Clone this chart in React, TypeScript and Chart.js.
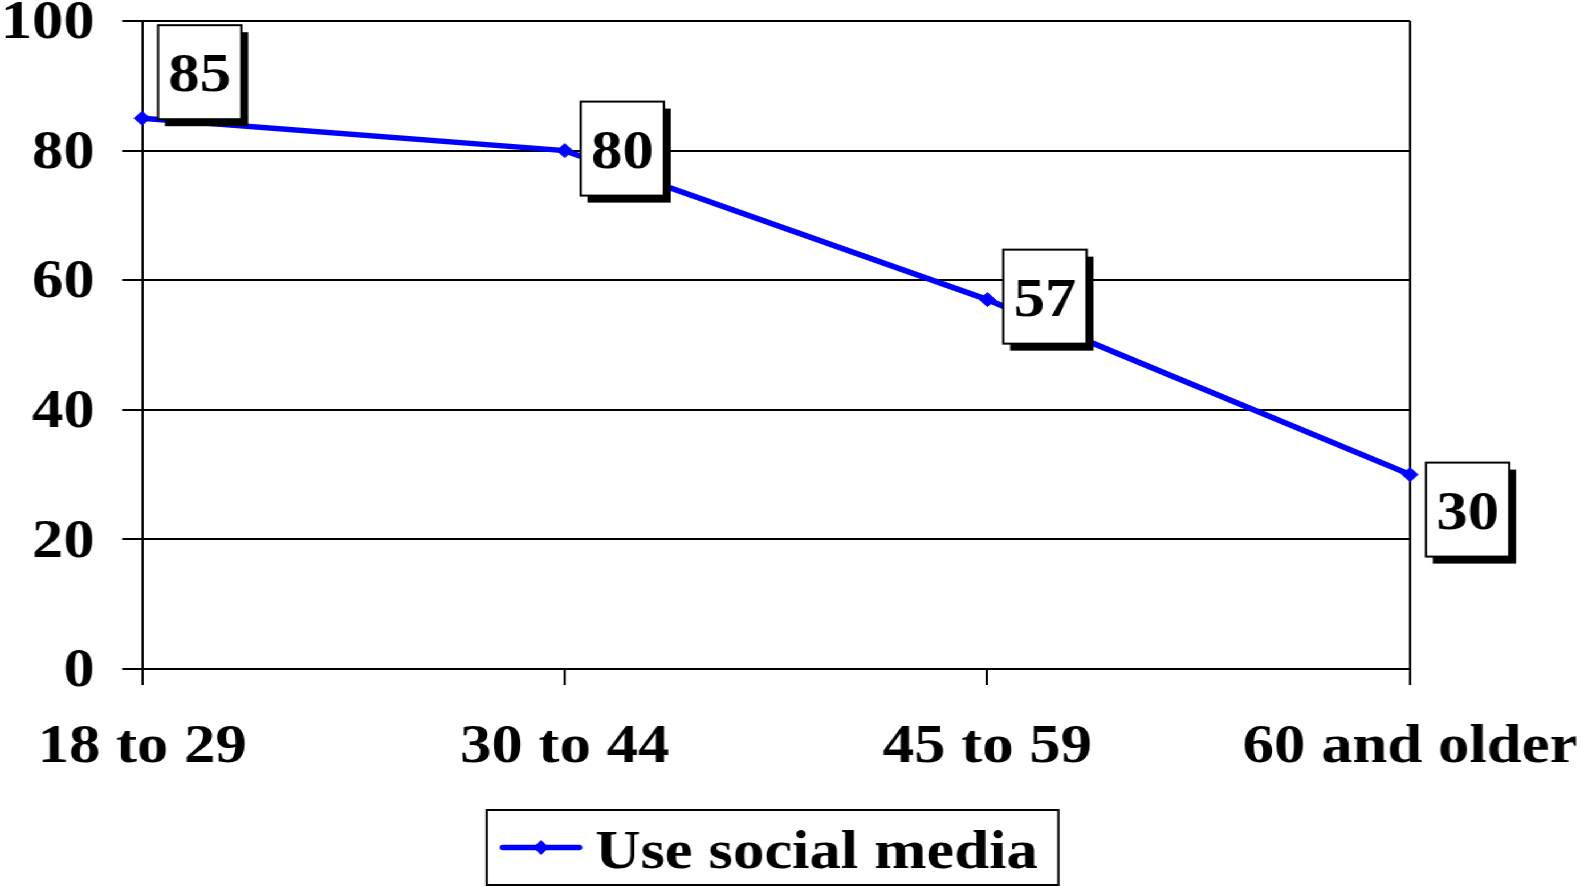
import React, { useEffect, useRef } from 'react';
import { Chart, registerables } from 'chart.js';

Chart.register(...registerables);

// ---- data ----
const categories = ['18 to 29', '30 to 44', '45 to 59', '60 and older'];
const seriesLabel = 'Use social media';
const socialMediaValues = [85, 80, 57, 30];
const yMin = 0;
const yMax = 100;
const yStep = 20;

// ---- styling ----
const STRETCH = 1.14; // reference is horizontally stretched
const FULL_W = 1581;
const FULL_H = 887;
const W = FULL_W / STRETCH;
const FONT = "'Liberation Serif', 'Times New Roman', serif";
const BLUE = '#0000FF';
const PLOT_LEFT = 142 / STRETCH;
const PLOT_RIGHT = 1409 / STRETCH;
const labelShiftY = [-46, -2, -3, 35];

const valueBoxes = {
  id: 'valueBoxes',
  afterDatasetsDraw(chart: any) {
    const ctx = chart.ctx;
    const meta = chart.getDatasetMeta(0);
    const data = chart.data.datasets[0].data;
    ctx.save();
    ctx.font = `bold 55px ${FONT}`;
    meta.data.forEach((pt: any, i: number) => {
      const bw = 73;
      const bh = 94;
      const left = pt.x + 14;
      const top = pt.y + labelShiftY[i] - bh / 2;
      ctx.fillStyle = '#000';
      ctx.fillRect(left + 6, top + 7, bw, bh);
      ctx.fillStyle = '#fff';
      ctx.fillRect(left, top, bw, bh);
      ctx.lineWidth = 2;
      ctx.strokeStyle = '#000';
      ctx.strokeRect(left, top, bw, bh);
      ctx.fillStyle = '#000';
      ctx.textAlign = 'center';
      ctx.textBaseline = 'alphabetic';
      ctx.fillText(String(data[i]), left + bw / 2, top + bh / 2 + 19);
    });
    ctx.restore();
  },
};

const boxedLegend = {
  id: 'boxedLegend',
  afterDraw(chart: any) {
    const ctx = chart.ctx;
    const area = chart.chartArea;
    const label = chart.data.datasets[0].label;
    ctx.save();
    ctx.font = `bold 55px ${FONT}`;
    const tw = ctx.measureText(label).width;
    const padL = 14, sampleW = 67, gap = 14, padR = 18;
    const bw = padL + sampleW + gap + tw + padR;
    const bh = 75;
    const cx = (area.left + area.right) / 2;
    const left = cx - bw / 2 - 3;
    const top = 810;
    ctx.lineWidth = 2;
    ctx.strokeStyle = '#000';
    ctx.strokeRect(left, top, bw, bh);
    const cy = top + bh / 2;
    ctx.strokeStyle = BLUE;
    ctx.lineWidth = 5.5;
    ctx.lineCap = 'round';
    ctx.beginPath();
    ctx.moveTo(left + padL, cy);
    ctx.lineTo(left + padL + sampleW, cy);
    ctx.stroke();
    const mx = left + padL + sampleW / 2;
    ctx.fillStyle = BLUE;
    ctx.beginPath();
    ctx.moveTo(mx, cy - 7.5);
    ctx.lineTo(mx + 7, cy);
    ctx.lineTo(mx, cy + 7.5);
    ctx.lineTo(mx - 7, cy);
    ctx.closePath();
    ctx.fill();
    ctx.fillStyle = '#000';
    ctx.textAlign = 'left';
    ctx.textBaseline = 'alphabetic';
    ctx.fillText(label, left + padL + sampleW + gap, top + 58);
    ctx.restore();
  },
};

export default function App() {
  const canvasRef = useRef<HTMLCanvasElement | null>(null);

  useEffect(() => {
    if (!canvasRef.current) return;
    const font = { family: FONT, size: 55, weight: 'bold' as const, lineHeight: 1 };
    const chart = new Chart(canvasRef.current, {
      type: 'line',
      data: {
        labels: categories,
        datasets: [
          {
            label: seriesLabel,
            data: socialMediaValues,
            borderColor: BLUE,
            backgroundColor: BLUE,
            borderWidth: 5.5,
            pointStyle: 'rectRot',
            pointRadius: 7,
            pointBackgroundColor: BLUE,
            pointBorderColor: BLUE,
            pointBorderWidth: 1,
            tension: 0,
            clip: false as any,
          },
        ],
      },
      options: {
        animation: false,
        responsive: true,
        maintainAspectRatio: false,
        events: [],
        layout: { padding: { top: 21, right: W - PLOT_RIGHT, bottom: 108, left: 0 } },
        plugins: { legend: { display: false }, tooltip: { enabled: false } },
        scales: {
          x: {
            type: 'category',
            offset: false,
            grid: {
              color: (c: any) =>
                c.index === 0 || c.index === categories.length - 1 ? '#000' : 'rgba(0,0,0,0)',
              tickColor: '#000',
              lineWidth: 2,
              tickLength: 16,
              drawOnChartArea: true,
              drawTicks: true,
            },
            border: { display: true, color: '#000', width: 2 },
            ticks: { font, color: '#000', padding: 35, maxRotation: 0, autoSkip: false },
            afterFit: (s: any) => {
              s.height = 110;
              s.paddingLeft = 0;
              s.paddingRight = 0;
            },
          },
          y: {
            min: yMin,
            max: yMax,
            ticks: { stepSize: yStep, font, color: '#000', padding: 24, labelOffset: 3 },
            grid: { color: '#000', lineWidth: 2, tickLength: 17.5, drawTicks: true },
            border: { display: true, color: '#000', width: 2 },
            afterFit: (s: any) => {
              s.width = PLOT_LEFT;
              s.paddingTop = 0;
              s.paddingBottom = 0;
            },
          },
        },
      },
      plugins: [valueBoxes, boxedLegend],
    });
    return () => chart.destroy();
  }, []);

  return (
    <div
      style={{
        position: 'fixed',
        left: 0,
        top: 0,
        width: `${W}px`,
        height: `${FULL_H}px`,
        transform: `scaleX(${STRETCH})`,
        transformOrigin: '0 0',
        background: '#fff',
      }}
    >
      <canvas ref={canvasRef} />
    </div>
  );
}
